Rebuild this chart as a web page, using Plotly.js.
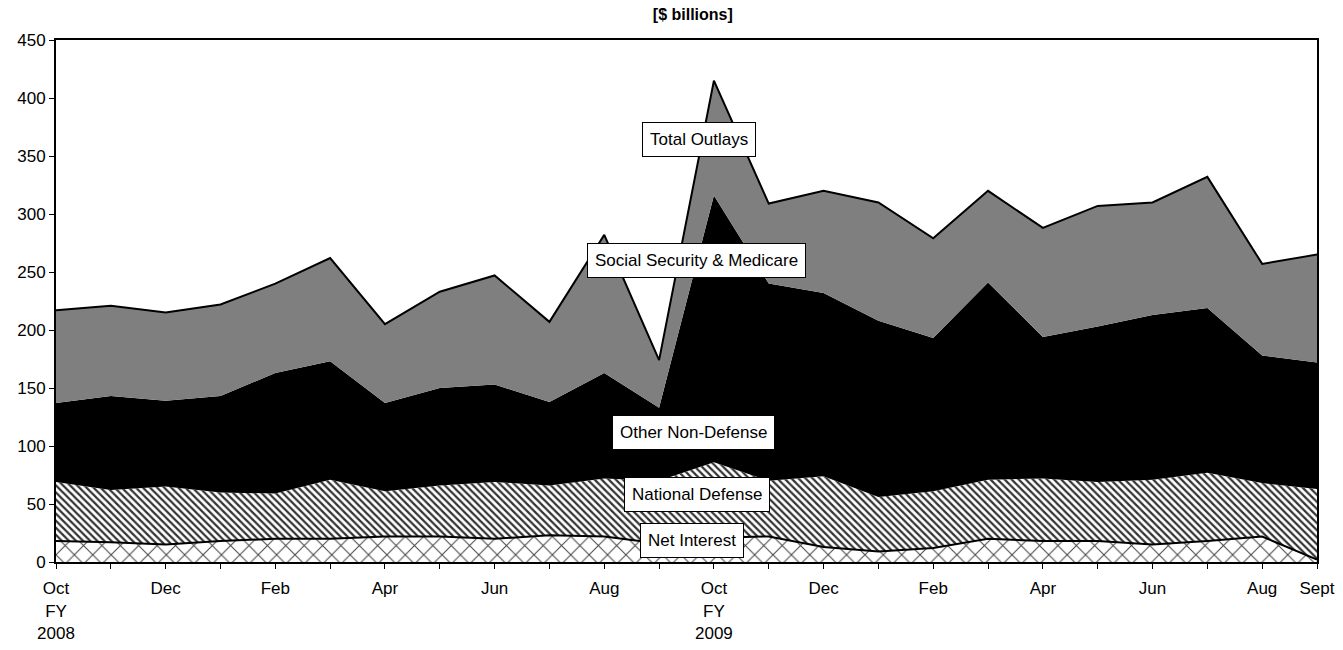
<!DOCTYPE html>
<html>
<head>
<meta charset="utf-8">
<script src="https://cdn.plot.ly/plotly-3.0.1.min.js"></script>
<style>html,body{margin:0;padding:0;background:#fff;}#chart{width:1343px;height:650px;}</style>
</head>
<body>
<div id="chart"></div>
<script>
var months = ["Oct 2007","Nov 2007","Dec 2007","Jan 2008","Feb 2008","Mar 2008","Apr 2008","May 2008","Jun 2008","Jul 2008","Aug 2008","Sep 2008",
              "Oct 2008","Nov 2008","Dec 2008","Jan 2009","Feb 2009","Mar 2009","Apr 2009","May 2009","Jun 2009","Jul 2009","Aug 2009","Sep 2009"];
var tickLabels = ["Oct<br>FY<br>2008","","Dec","","Feb","","Apr","","Jun","","Aug","",
                  "Oct<br>FY<br>2009","","Dec","","Feb","","Apr","","Jun","","Aug","Sept"];
var netInterest      = [18,17,15,18,20,20,22,22,20,23,22,16, 21,22,13,9,12,20,18,18,15,18,22,2];
var nationalDefense  = [51,45,50,42,39,51,39,44,49,43,50,54, 65,48,61,47,49,51,54,51,56,59,46,61];
var otherNonDefense  = [68,81,74,83,104,102,76,84,84,72,91,63, 230,170,158,152,132,170,122,134,142,142,110,109];
var socialSecMed     = [80,78,76,79,77,89,68,83,94,69,119,41, 99,69,88,102,86,79,94,104,97,113,79,93];
var seriesNames = ["Net Interest","National Defense","Other Non-Defense","Social Security & Medicare"];

var idx = months.map(function(_, i){ return i; });

var traces = [
  {x: idx, y: netInterest, name: seriesNames[0], type:'scatter', mode:'lines', stackgroup:'one',
   line:{color:'#000', width:2}, fillcolor:'#fff',
   fillpattern:{shape:'x', fgcolor:'#444', bgcolor:'#fff', size:13, solidity:0.15}},
  {x: idx, y: nationalDefense, name: seriesNames[1], type:'scatter', mode:'lines', stackgroup:'one',
   line:{color:'#000', width:0}, fillcolor:'#fff',
   fillpattern:{shape:'\\', fgcolor:'#333', bgcolor:'#fff', size:5, solidity:0.45}},
  {x: idx, y: otherNonDefense, name: seriesNames[2], type:'scatter', mode:'lines', stackgroup:'one',
   line:{color:'#000', width:0}, fillcolor:'#000'},
  {x: idx, y: socialSecMed, name: seriesNames[3], type:'scatter', mode:'lines', stackgroup:'one',
   line:{color:'#000', width:2}, fillcolor:'#808080',
   fillpattern:{shape:'.', fgcolor:'#404040', bgcolor:'#b0b0b0', size:2, solidity:0.5}}
];

var fam = 'Liberation Sans, Arial, sans-serif';
var labelFont = {family:fam, size:17, color:'#000'};
function lab(text, x, y){
  return {text:text, x:x, y:y, xref:'x', yref:'y', showarrow:false, font:labelFont,
          bgcolor:'#fff', bordercolor:'#000', borderwidth:1, borderpad:7};
}

var layout = {
  width:1343, height:650,
  margin:{l:56, r:26, t:40, b:88},
  paper_bgcolor:'#fff', plot_bgcolor:'#fff',
  showlegend:false,
  hovermode:false,
  title:{text:'<b>[$ billions]</b>', font:{family:fam, size:16, color:'#000'},
         xref:'paper', x:0.505, xanchor:'center', y:0.978, yanchor:'middle'},
  xaxis:{range:[0,23], tickmode:'array', tickvals:idx, ticktext:tickLabels,
         ticks:'outside', ticklen:5, tickcolor:'#000', tickwidth:1, ticklabelstandoff:5,
         showline:true, linecolor:'#000', linewidth:2, mirror:true, showgrid:false, zeroline:false,
         tickangle:0, tickfont:{family:fam, size:17, color:'#000'}},
  yaxis:{range:[0,450], dtick:50, ticks:'outside', ticklen:5, tickcolor:'#000', tickwidth:1,
         showline:true, linecolor:'#000', linewidth:2, mirror:true, showgrid:false, zeroline:false,
         tickfont:{family:fam, size:17, color:'#000'}},
  annotations:[
    lab('Total Outlays', 11.73, 364),
    lab('Social Security & Medicare', 11.69, 260),
    lab('Other Non-Defense', 11.63, 111.6),
    lab('National Defense', 11.69, 58.2),
    lab('Net Interest', 11.6, 18.5)
  ]
};

Plotly.newPlot('chart', traces, layout, {staticPlot:true, displayModeBar:false});
</script>
</body>
</html>
